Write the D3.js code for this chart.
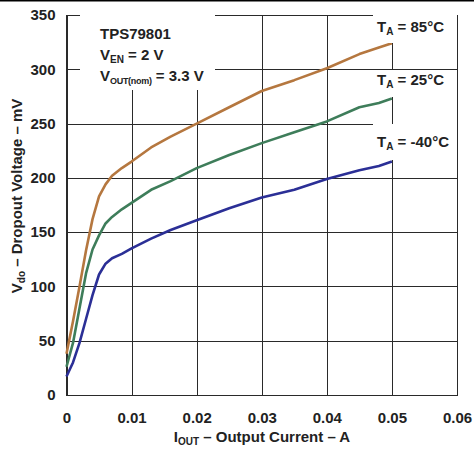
<!DOCTYPE html>
<html>
<head>
<meta charset="utf-8">
<script src="https://cdn.jsdelivr.net/npm/d3@7"></script>
<style>
  body { margin: 0; background: #fff; }
  svg { display: block; font-family: "Liberation Sans", Arial, sans-serif; font-weight: bold; }
</style>
</head>
<body>
<svg></svg>
<script>
let width = 474,
    height = 452;

// output current, A
let current = [0, 0.001, 0.002, 0.003, 0.004, 0.005, 0.006, 0.007, 0.0085, 0.010,
               0.013, 0.016, 0.020, 0.025, 0.030, 0.035, 0.040, 0.045, 0.048, 0.050];
// dropout voltage, mV
let vdo85 = [38, 68, 100, 133, 162, 183, 194, 202, 209, 215,
             228, 238, 250, 265, 280, 290, 301, 314, 320, 324];
let vdo25 = [26, 48, 80, 112, 134, 147, 158, 164, 171, 177,
             189, 197, 209, 221, 232, 242, 252, 265, 269, 273];
let vdoM40 = [17, 30, 48, 70, 92, 111, 121, 126, 130, 135,
              144, 152, 161, 172, 182, 189, 199, 207, 211, 215];

let xTicks = [0, 0.01, 0.02, 0.03, 0.04, 0.05, 0.06];
let yTicks = [0, 50, 100, 150, 200, 250, 300, 350];

let series = [
    { label: '85°C', values: vdo85, color: '#b5773f' },
    { label: '25°C', values: vdo25, color: '#3e7d5a' },
    { label: '-40°C', values: vdoM40, color: '#2b2f96' }
];

let margin = { top: 15, right: 17, bottom: 57, left: 66.5 },
    w = width - margin.left - margin.right,
    h = height - margin.top - margin.bottom;

let svg = d3.select('svg')
    .attr('width', width)
    .attr('height', height);

// thin rule along the top edge
svg.append('rect')
    .attr('x', 0).attr('y', 0)
    .attr('width', width).attr('height', 1.5)
    .attr('fill', '#000');

let g = svg.append('g')
    .attr('transform', `translate(${margin.left},${margin.top})`);

let x = d3.scaleLinear().domain([0, 0.06]).range([0, w]);
let y = d3.scaleLinear().domain([0, 350]).range([h, 0]);

let xAxis = g.append('g')
    .attr('transform', `translate(0,${h})`)
    .call(d3.axisBottom(x)
        .tickValues(xTicks)
        .tickSize(-h)
        .tickPadding(17)
        .tickFormat(d => d === 0 ? '0' : d3.format('.2f')(d)));

let yAxis = g.append('g')
    .call(d3.axisLeft(y)
        .tickValues(yTicks)
        .tickSize(-w)
        .tickPadding(11)
        .tickFormat(d3.format('d')));

[xAxis, yAxis].forEach(a => {
    a.select('.domain').remove();
    a.selectAll('line')
        .attr('stroke', '#2a2a2a')
        .attr('stroke-width', 1)
        .attr('shape-rendering', 'crispEdges');
    a.selectAll('text')
        .attr('fill', '#222')
        .style('font-size', '15px')
        .style('font-weight', 'bold')
        .style('font-family', '"Liberation Sans", Arial, sans-serif');
});

// plot frame
g.append('rect')
    .attr('width', w).attr('height', h)
    .attr('fill', 'none')
    .attr('stroke', '#2a2a2a')
    .attr('shape-rendering', 'crispEdges');

// white boxes behind the annotations
let boxes = [
    [80, 15, 215, 90],
    [373, 15, 457, 43],
    [373, 70, 457, 97],
    [373, 124, 457, 160]
];
svg.selectAll('rect.box')
    .data(boxes)
    .enter().append('rect')
    .classed('box', true)
    .attr('x', d => d[0]).attr('y', d => d[1])
    .attr('width', d => d[2] - d[0]).attr('height', d => d[3] - d[1])
    .attr('fill', '#fff');

let line = d3.line()
    .x((d, i) => x(current[i]))
    .y(d => y(d));

g.selectAll('path.curve')
    .data(series)
    .enter().append('path')
    .classed('curve', true)
    .attr('d', d => line(d.values))
    .attr('fill', 'none')
    .attr('stroke', d => d.color)
    .attr('stroke-width', 2.6)
    .attr('stroke-linejoin', 'round');

// temperature labels
let labelY = [31.5, 85, 146.5];
series.forEach((s, i) => {
    let t = svg.append('text')
        .attr('x', 377).attr('y', labelY[i])
        .attr('fill', '#222')
        .style('font-size', '15px');
    t.append('tspan').text('T');
    t.append('tspan').text('A').style('font-size', '10px').attr('dy', 3);
    t.append('tspan').text(' = ' + s.label).attr('dy', -3);
});

// device annotation
let note = svg.append('g').attr('fill', '#222').style('font-size', '15px');
note.append('text').attr('x', 100).attr('y', 39).text('TPS79801');
let en = note.append('text').attr('x', 100).attr('y', 59.5);
en.append('tspan').text('V');
en.append('tspan').text('EN').style('font-size', '10px').attr('dy', 3);
en.append('tspan').text(' = 2 V').attr('dy', -3);
let vo = note.append('text').attr('x', 100).attr('y', 81);
vo.append('tspan').text('V');
vo.append('tspan').text('OUT(nom)').style('font-size', '9px').style('letter-spacing', '-0.3px').attr('dy', 3);
vo.append('tspan').text(' = 3.3 V').attr('dy', -3);

// axis titles
let xt = svg.append('text')
    .attr('x', 262).attr('y', 442)
    .attr('text-anchor', 'middle')
    .attr('fill', '#222')
    .style('font-size', '15px');
xt.append('tspan').text('I');
xt.append('tspan').text('OUT').style('font-size', '10px').attr('dy', 3);
xt.append('tspan').text(' – Output Current – A').attr('dy', -3);

let yt = svg.append('text')
    .attr('transform', 'translate(22,196) rotate(-90)')
    .attr('text-anchor', 'middle')
    .attr('fill', '#222')
    .style('font-size', '15px');
yt.append('tspan').text('V');
yt.append('tspan').text('do').style('font-size', '10px').attr('dy', 3);
yt.append('tspan').text(' – Dropout Voltage – mV').attr('dy', -3);
</script>
</body>
</html>
